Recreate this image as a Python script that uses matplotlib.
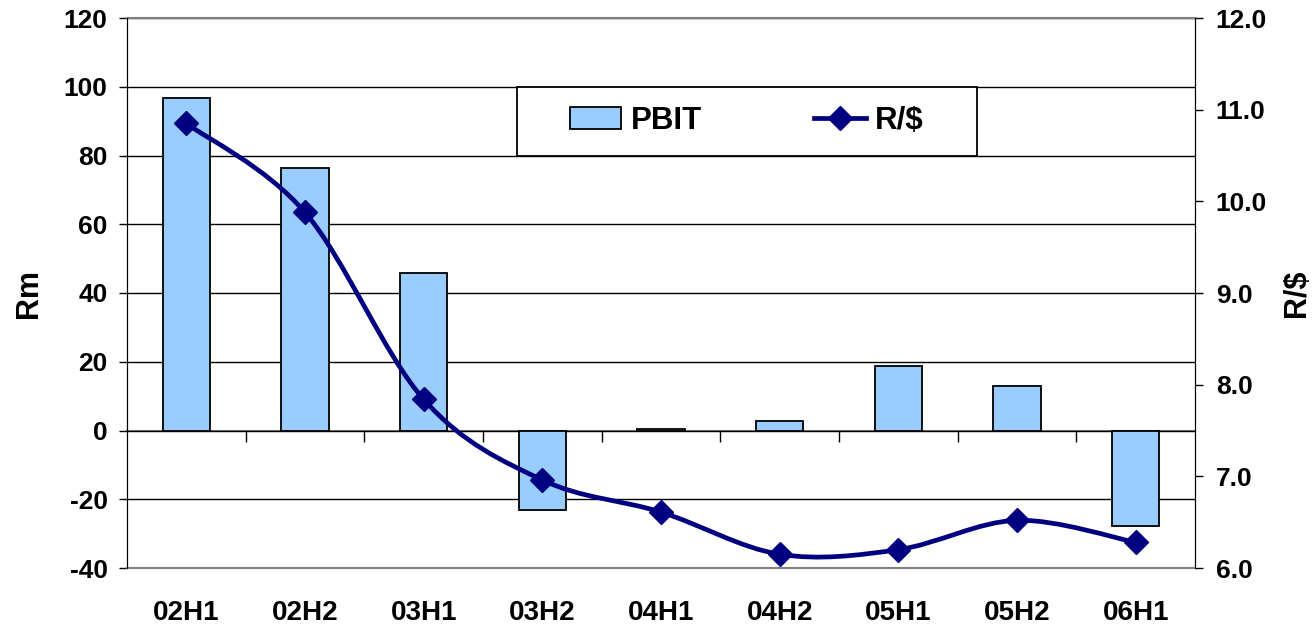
import numpy as np
import matplotlib
matplotlib.use('Agg')
from matplotlib import pyplot as plt
from matplotlib.path import Path
from matplotlib.patches import PathPatch, Patch, Rectangle
from matplotlib.lines import Line2D
import matplotlib.ticker as mtick

periods = ['02H1', '02H2', '03H1', '03H2', '04H1', '04H2', '05H1', '05H2', '06H1']
pbit = [96.7, 76.4, 45.8, -23.1, 0.4, 2.8, 18.8, 12.9, -27.9]
rand_usd = [10.85, 9.88, 7.84, 6.96, 6.61, 6.15, 6.20, 6.52, 6.28]

plt.rcParams['font.family'] = ['Liberation Sans', 'DejaVu Sans']
plt.rcParams['axes.unicode_minus'] = False

BAR_COLOR = '#99CCFF'
LINE_COLOR = '#000080'


def smooth_path(xs, ys):
    # excel-style smoothed line: catmull-rom as cubic bezier segments
    pts = np.column_stack([xs, ys]).astype(float)
    ext = np.vstack([pts[0], pts, pts[-1]])
    verts = [pts[0]]
    codes = [Path.MOVETO]
    for i in range(len(pts) - 1):
        p0, p1, p2, p3 = ext[i], ext[i + 1], ext[i + 2], ext[i + 3]
        verts += [p1 + (p2 - p0) / 6, p2 - (p3 - p1) / 6, p2]
        codes += [Path.CURVE4] * 3
    return Path(verts, codes)


fig = plt.figure(figsize=(13.14, 6.29), dpi=100)
ax1 = fig.add_axes([127 / 1314, 61 / 629, 1068 / 1314, 550 / 629])
ax2 = ax1.twinx()

x = np.arange(len(periods))
ax1.bar(x, pbit, width=0.4, color=BAR_COLOR, edgecolor='black', linewidth=1.3, zorder=3)
ax1.set_xlim(-0.5, len(periods) - 0.5)
ax1.set_ylim(-40, 120)
ax1.set_yticks(range(-40, 121, 20))
ax1.yaxis.grid(True, color='black', linewidth=1.0, zorder=0)
ax1.set_axisbelow(True)
ax1.set_xticks(x)
ax1.set_xticklabels(periods)
ax1.tick_params(axis='x', length=0, pad=23, labelsize=20)
ax1.tick_params(axis='y', length=6, width=1, direction='out', labelsize=19, pad=8)
ax1.set_ylabel('Rm', fontsize=22, fontweight='bold', labelpad=14)

for side in ['top', 'bottom']:
    ax1.spines[side].set_color('#808080')
    ax1.spines[side].set_linewidth(1.5)
    ax1.spines[side].set_zorder(4)
ax2.spines['top'].set_visible(False)
ax2.spines['bottom'].set_visible(False)

# category axis crossing at zero, ticks between categories
zero_axis = ax1.secondary_xaxis(0, transform=ax1.transData)
zero_axis.set_xticks(np.arange(0.5, len(periods) - 0.5, 1.0))
zero_axis.set_xticklabels([])
zero_axis.tick_params(length=8, width=1, direction='out', color='black')
zero_axis.spines['bottom'].set_color('#808080')
zero_axis.spines['bottom'].set_linewidth(1.5)

ax2.set_ylim(6.0, 12.0)
ax2.set_yticks(np.arange(6.0, 12.01, 1.0))
ax2.yaxis.set_major_formatter(mtick.FormatStrFormatter('%.1f'))
ax2.tick_params(axis='y', length=6, width=1, direction='out', labelsize=19, pad=9)
ax2.set_ylabel('R/$', fontsize=22, fontweight='bold', labelpad=11)

for lab in ax1.get_xticklabels() + ax1.get_yticklabels() + ax2.get_yticklabels():
    lab.set_fontweight('bold')

ax2.add_patch(PathPatch(smooth_path(x, rand_usd), facecolor='none', edgecolor=LINE_COLOR,
                        linewidth=3.4, capstyle='round', joinstyle='round', zorder=5))
ax2.plot(x, rand_usd, linestyle='none', marker='D', markersize=12,
         color=LINE_COLOR, zorder=6)

# legend box between the 100 and 80 gridlines
bx, by, bw, bh = 0.365, 0.75, 0.4307, 0.125
box = Rectangle((bx, by), bw, bh, transform=ax2.transAxes,
                facecolor='white', edgecolor='black', linewidth=1.3, zorder=7)
ax2.add_patch(box)
handles = [Patch(facecolor=BAR_COLOR, edgecolor='black', linewidth=1.3),
           Line2D([], [], color=LINE_COLOR, linewidth=3.4, marker='D', markersize=12)]
leg = ax2.legend(handles, ['PBIT', 'R/$'], ncol=2, loc='center',
                 bbox_to_anchor=(bx + bw / 2, by + bh / 2),
                 prop={'size': 22.5, 'weight': 'bold'}, frameon=False,
                 handlelength=1.65, handletextpad=0.3, columnspacing=3.6,
                 borderaxespad=0)
leg.set_zorder(8)

plt.savefig('out.png', dpi=100)
